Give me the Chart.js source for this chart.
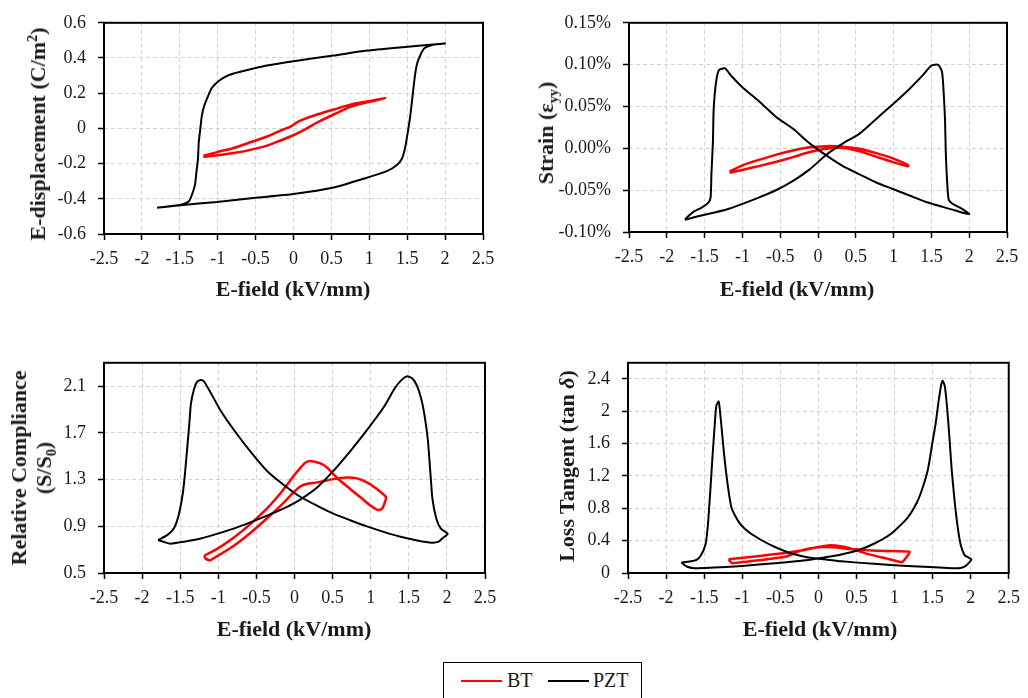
<!DOCTYPE html>
<html>
<head>
<meta charset="utf-8">
<title>BT / PZT field response</title>
<script src="https://cdn.jsdelivr.net/npm/chart.js@4.4.1/dist/chart.umd.min.js"></script>
<style>
  html, body { margin: 0; padding: 0; background: #fff; }
  #figure { position: relative; width: 1028px; height: 698px; overflow: hidden;
            font-family: 'Liberation Serif', serif; color: #1a1a1a; }
  #figure canvas { position: absolute; }
  .axis-title { position: absolute; white-space: nowrap; font-weight: bold; font-size: 22px;
                line-height: 1; transform: translate(-50%, -50%); text-align: center; }
  .axis-title.vertical { transform: translate(-50%, -50%) rotate(-90deg); }
  .axis-title sub, .axis-title sup { font-size: 0.65em; line-height: 0; }
  .axis-title.two-line { line-height: 25px; }
  #legend-box { position: absolute; left: 443px; top: 662px; width: 197px; height: 40px;
                border: 1.5px solid #000; }
  .swatch { position: absolute; height: 2px; width: 41px; top: 680px; }
  .entry { position: absolute; top: 680px; font-size: 20px; line-height: 1; transform: translateY(-50%); }
</style>
</head>
<body>
<div id="figure">
  <canvas id="dispChart" width="514" height="320" style="left:0;top:0"></canvas>
  <canvas id="strainChart" width="514" height="320" style="left:514px;top:0"></canvas>
  <canvas id="compChart" width="514" height="320" style="left:0;top:340px"></canvas>
  <canvas id="lossChart" width="514" height="320" style="left:514px;top:340px"></canvas>

  <div class="axis-title vertical" style="left:38px;top:134px">E-displacement (C/m<sup>2</sup>)</div>
  <div class="axis-title" style="left:293px;top:289px">E-field (kV/mm)</div>
  <div class="axis-title vertical" style="left:546px;top:133px">Strain (ε<sub>yy</sub>)</div>
  <div class="axis-title" style="left:797px;top:289px">E-field (kV/mm)</div>
  <div class="axis-title vertical two-line" style="left:31px;top:468px">Relative Compliance<br>(S/S<sub>0</sub>)</div>
  <div class="axis-title" style="left:294px;top:629px">E-field (kV/mm)</div>
  <div class="axis-title vertical" style="left:567px;top:466px">Loss Tangent (tan <i>δ</i>)</div>
  <div class="axis-title" style="left:820px;top:629px">E-field (kV/mm)</div>

  <div id="legend-box"></div>
  <div class="swatch" style="left:461px;background:#ff0000"></div>
  <div class="entry" style="left:507px">BT</div>
  <div class="swatch" style="left:548px;background:#000"></div>
  <div class="entry" style="left:593px">PZT</div>
</div>

<script>
// tick positions
const fieldTicks = [-2.5, -2, -1.5, -1, -0.5, 0, 0.5, 1, 1.5, 2, 2.5];
const dispTicks = [-0.6, -0.4, -0.2, 0, 0.2, 0.4, 0.6];
const strainTicks = [-0.10, -0.05, 0, 0.05, 0.10, 0.15];
const compTicks = [0.5, 0.9, 1.3, 1.7, 2.1];
const lossTicks = [0, 0.4, 0.8, 1.2, 1.6, 2, 2.4];
const compMax = 2.3;
const lossMax = 2.6;

// electric displacement loops (kV/mm, C/m2)
const dispBtE = [-1.19, -1.01, -0.79, -0.57, -0.35, -0.18, -0.04, 0.09, 0.31, 0.53, 0.75, 0.97, 1.21,
  0.97, 0.75, 0.53, 0.31, 0.13, 0.04, -0.04, -0.18, -0.35, -0.57, -0.79, -1.01, -1.19];
const dispBtD = [-0.161, -0.153, -0.14, -0.122, -0.098, -0.07, -0.046, -0.02, 0.033, 0.079, 0.122, 0.148, 0.172,
  0.153, 0.135, 0.107, 0.079, 0.051, 0.033, 0.01, -0.014, -0.046, -0.079, -0.111, -0.135, -0.157];
const dispPztE = [-1.80, -1.49, -1.01, -0.53, 0, 0.53, 0.97, 1.23, 1.36, 1.43, 1.47, 1.50, 1.54, 1.57, 1.60, 1.63,
  1.68, 1.73, 1.84, 2.00, 1.40, 0.97, 0.53, 0, -0.35, -0.53, -0.79, -0.92, -1.01, -1.08, -1.13, -1.18, -1.21,
  -1.23, -1.25, -1.26, -1.28, -1.30, -1.34, -1.38, -1.45, -1.58, -1.80];
const dispPztD = [-0.451, -0.436, -0.418, -0.395, -0.373, -0.336, -0.28, -0.243, -0.209, -0.172, -0.116, -0.042,
  0.07, 0.181, 0.293, 0.367, 0.423, 0.457, 0.475, 0.483, 0.46, 0.442, 0.414, 0.382, 0.358, 0.34, 0.312, 0.289,
  0.261, 0.228, 0.181, 0.126, 0.07, -0.005, -0.079, -0.172, -0.246, -0.321, -0.377, -0.414, -0.429, -0.44, -0.451];

// strain loops (kV/mm, %)
const strainBtE = [-1.17, -0.99, -0.77, -0.55, -0.33, -0.11, 0.11, 0.33, 0.55, 0.77, 0.99, 1.19,
  1.19, 0.99, 0.77, 0.55, 0.33, 0.11, -0.11, -0.33, -0.55, -0.77, -0.99, -1.17];
const strainBtS = [-0.0291, -0.0255, -0.021, -0.016, -0.0105, -0.0045, -0.0005, 0.0005, -0.0035, -0.01, -0.0165, -0.0215,
  -0.02, -0.012, -0.0058, -0.0005, 0.002, 0.0026, 0.0012, -0.0025, -0.0075, -0.0135, -0.02, -0.0275];
const strainPztE = [-1.76, -1.61, -1.21, -0.99, -0.77, -0.55, -0.33, -0.11, 0.11, 0.33, 0.55, 0.77, 0.99, 1.21,
  1.39, 1.50, 1.59, 1.64, 1.66, 1.68, 1.69, 1.71, 1.73, 1.79, 1.90, 2.00,
  1.83, 1.65, 1.43, 1.21, 0.99, 0.77, 0.55, 0.33, 0.11, -0.11, -0.33, -0.55, -0.77, -0.99, -1.14, -1.23, -1.31,
  -1.35, -1.38, -1.39, -1.41, -1.42, -1.45, -1.54, -1.65, -1.76];
const strainPztS = [-0.0856, -0.0817, -0.0731, -0.0661, -0.0583, -0.0498, -0.0389, -0.0252, -0.0077, 0.0059, 0.0176,
  0.0351, 0.0527, 0.071, 0.0877, 0.099, 0.0998, 0.0916, 0.0702, 0.0351, -0.0038, -0.0428, -0.0614, -0.0669, -0.072,
  -0.0786, -0.0747, -0.07, -0.0642, -0.0564, -0.0486, -0.0408, -0.0311, -0.0213, -0.0085, 0.0059, 0.0234, 0.0371,
  0.0554, 0.0721, 0.0858, 0.0955, 0.0935, 0.078, 0.0468, 0.0079, -0.0311, -0.0583, -0.065, -0.0708, -0.0759, -0.0848];

// relative compliance loops (kV/mm, S/S0)
const compBtE = [-1.11, -0.80, -0.58, -0.36, -0.14, -0.01, 0.08, 0.16, 0.30, 0.51, 0.69, 0.82, 0.95, 1.08, 1.20,
  1.19, 1.15, 1.10, 0.99, 0.86, 0.73, 0.60, 0.51, 0.43, 0.34, 0.23, 0.14, 0.08, -0.01, -0.10, -0.19, -0.36,
  -0.58, -0.80, -1.02, -1.18, -1.16, -1.11];
const compBtC = [0.606, 0.732, 0.843, 0.969, 1.103, 1.193, 1.243, 1.262, 1.276, 1.304, 1.318, 1.31, 1.276, 1.22, 1.151,
  1.114, 1.053, 1.039, 1.081, 1.151, 1.22, 1.29, 1.346, 1.402, 1.438, 1.458, 1.444, 1.402, 1.332, 1.254, 1.179, 1.053,
  0.919, 0.802, 0.704, 0.648, 0.62, 0.606];
const compPztE = [-1.79, -1.71, -1.63, -1.45, -1.23, -1.02, -0.80, -0.58, -0.36, -0.14, 0.08, 0.30, 0.51, 0.73, 0.95,
  1.17, 1.32, 1.41, 1.48, 1.55, 1.61, 1.67, 1.71, 1.75, 1.78, 1.81, 1.86, 1.92, 2.01,
  1.95, 1.89, 1.80, 1.61, 1.39, 1.17, 0.95, 0.73, 0.51, 0.30, 0.08, -0.14, -0.36, -0.58, -0.80, -0.97, -1.10,
  -1.19, -1.23, -1.28, -1.32, -1.36, -1.38, -1.41, -1.44, -1.47, -1.52, -1.58, -1.67, -1.79];
const compPztC = [0.782, 0.765, 0.751, 0.768, 0.796, 0.835, 0.88, 0.933, 0.991, 1.053, 1.131, 1.234, 1.374, 1.542, 1.723,
  1.919, 2.086, 2.156, 2.184, 2.164, 2.10, 1.974, 1.835, 1.639, 1.388, 1.137, 0.969, 0.88, 0.835,
  0.802, 0.768, 0.76, 0.779, 0.81, 0.852, 0.899, 0.952, 1.008, 1.075, 1.151, 1.254, 1.374, 1.542, 1.729, 1.891, 2.044,
  2.142, 2.153, 2.136, 2.072, 1.947, 1.779, 1.556, 1.332, 1.165, 0.997, 0.885, 0.824, 0.782];

// loss tangent loops (kV/mm, tan delta)
const lossBtE = [-1.18, -0.80, -0.435, -0.20, 0, 0.13, 0.25, 0.40, 0.65, 0.90, 1.10,
  1.20, 0.90, 0.65, 0.40, 0.20, 0.05, -0.10, -0.25, -0.435, -0.80, -1.136, -1.18];
const lossBtT = [0.169, 0.208, 0.248, 0.282, 0.322, 0.341, 0.336, 0.31, 0.233, 0.178, 0.133,
  0.261, 0.272, 0.281, 0.298, 0.318, 0.322, 0.305, 0.27, 0.2, 0.155, 0.121, 0.169];
const lossPztE = [-1.80, -1.73, -1.63, -1.43, -1.00, -0.57, -0.13, 0.08, 0.30, 0.52, 0.73, 0.95, 1.17, 1.30, 1.38,
  1.44, 1.49, 1.54, 1.58, 1.61, 1.63, 1.66, 1.69, 1.72, 1.75, 1.79, 1.83, 1.87, 1.92, 1.97, 2.01,
  1.98, 1.92, 1.84, 1.60, 1.17, 0.73, 0.30, 0.08, -0.13, -0.35, -0.57, -0.74, -0.91, -1.04, -1.14, -1.19,
  -1.24, -1.28, -1.30, -1.31, -1.34, -1.36, -1.39, -1.42, -1.45, -1.48, -1.54, -1.60, -1.69, -1.80];
const lossPztT = [0.129, 0.08, 0.06, 0.064, 0.088, 0.121, 0.161, 0.193, 0.229, 0.281, 0.362, 0.482, 0.683, 0.884, 1.085,
  1.286, 1.568, 1.849, 2.131, 2.312, 2.38, 2.312, 2.05, 1.688, 1.286, 0.884, 0.563, 0.342, 0.221, 0.193, 0.169,
  0.129, 0.08, 0.06, 0.068, 0.088, 0.113, 0.145, 0.169, 0.193, 0.241, 0.322, 0.402, 0.503, 0.623, 0.804, 1.085,
  1.487, 1.889, 2.07, 2.123, 2.07, 1.849, 1.447, 1.005, 0.603, 0.362, 0.221, 0.161, 0.141, 0.129];

Chart.defaults.font.family = "'Liberation Serif', serif";
Chart.defaults.font.size = 18;
Chart.defaults.color = '#1a1a1a';

const BT_RED = '#ff0000';
const PZT_BLACK = '#000000';

// black frame around each plot area
const plotFrame = {
  id: 'plotFrame',
  beforeDatasetsDraw(chart) {
    const { ctx, chartArea: a } = chart;
    ctx.save();
    ctx.strokeStyle = '#000';
    ctx.lineWidth = 2;
    ctx.strokeRect(a.left, a.top, a.right - a.left, a.bottom - a.top);
    ctx.restore();
  }
};

const plainNumber = v => String(+Number(v).toFixed(2));
const percent = v => Number(v).toFixed(2) + '%';

function toPoints(xs, ys) {
  return xs.map((x, i) => ({ x, y: ys[i] }));
}

function axis(ticks, min, max, format, padding, fit) {
  return {
    type: 'linear',
    min, max,
    afterBuildTicks: scale => { scale.ticks = ticks.map(value => ({ value })); },
    afterFit: fit,
    border: { display: false, dash: [4, 3] },
    grid: { color: '#d2d2d2', lineWidth: 1, drawTicks: true, tickLength: 6, tickColor: '#000', tickWidth: 1.5 },
    ticks: { callback: format, autoSkip: false, maxRotation: 0, padding }
  };
}

// area = plot rectangle inside the canvas (left, top, right, bottom)
function makePanel(id, area, yTicks, yMax, yFormat, bt, pzt, btTension) {
  const canvas = document.getElementById(id);
  return new Chart(canvas, {
    type: 'scatter',
    data: {
      datasets: [
        { label: 'BT', data: toPoints(bt[0], bt[1]), showLine: true, pointRadius: 0,
          borderColor: BT_RED, borderWidth: 2.5, tension: btTension, order: 1 },
        { label: 'PZT', data: toPoints(pzt[0], pzt[1]), showLine: true, pointRadius: 0,
          borderColor: PZT_BLACK, borderWidth: 2, tension: 0.2, order: 0 }
      ]
    },
    options: {
      responsive: false,
      animation: false,
      events: [],
      layout: { padding: { left: 0, top: area.top, right: canvas.width - area.right, bottom: 0 } },
      plugins: { legend: { display: false }, tooltip: { enabled: false } },
      scales: {
        x: axis(fieldTicks, -2.5, 2.5, plainNumber, 8, s => { s.height = canvas.height - area.bottom; }),
        y: axis(yTicks, yTicks[0], yMax, yFormat, 12, s => { s.width = area.left; })
      }
    },
    plugins: [plotFrame]
  });
}

makePanel('dispChart', { left: 104, top: 19, right: 483, bottom: 234 },
  dispTicks, 0.6, plainNumber, [dispBtE, dispBtD], [dispPztE, dispPztD], 0.2);
makePanel('strainChart', { left: 115, top: 18, right: 493, bottom: 232 },
  strainTicks, 0.15, percent, [strainBtE, strainBtS], [strainPztE, strainPztS], 0.2);
makePanel('compChart', { left: 104, top: 18, right: 485, bottom: 233 },
  compTicks, compMax, plainNumber, [compBtE, compBtC], [compPztE, compPztC], 0.2);
makePanel('lossChart', { left: 114, top: 18, right: 499, bottom: 233 },
  lossTicks, lossMax, plainNumber, [lossBtE, lossBtT], [lossPztE, lossPztT], 0.1);
</script>
</body>
</html>
